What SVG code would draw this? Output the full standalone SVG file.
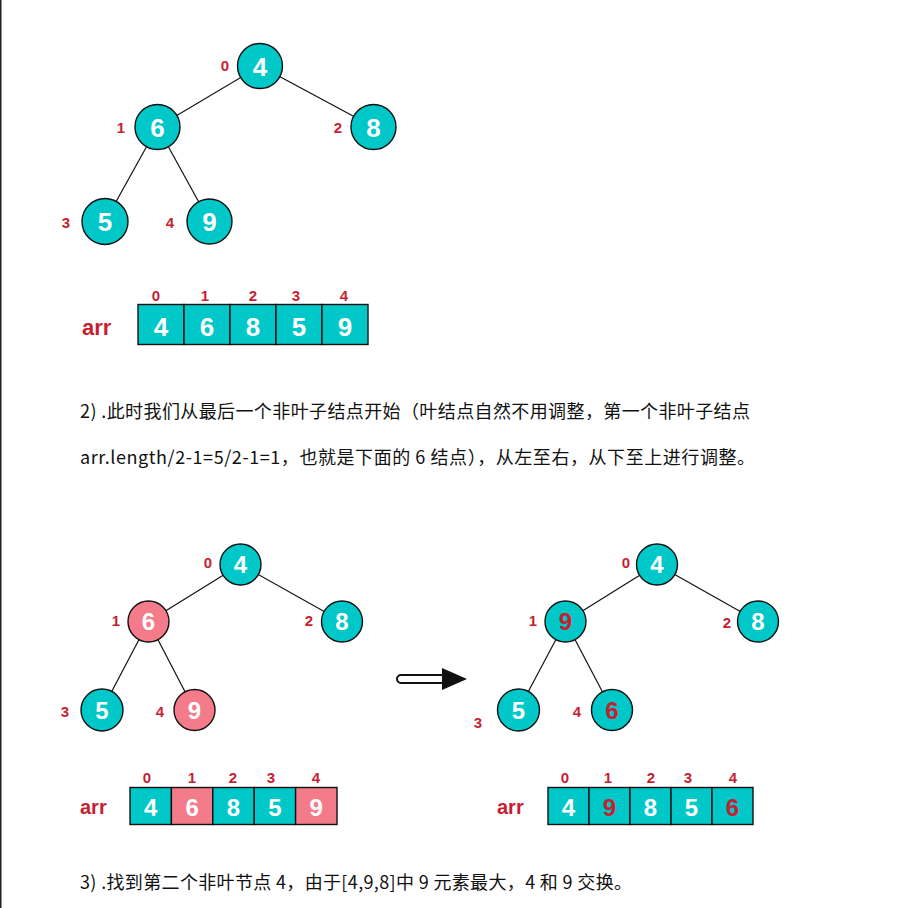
<svg xmlns="http://www.w3.org/2000/svg" width="923" height="908" viewBox="0 0 923 908">
<style>
.t{fill:#00c8c8;stroke:#111;stroke-width:1.4}
.p{fill:#f47b8a;stroke:#111;stroke-width:1.4}
.cell{stroke:#111;stroke-width:1.4}
.v{font-family:"Liberation Sans",Arial,sans-serif;font-weight:bold;fill:#fff;text-anchor:middle}
.vr{fill:#c81e32}
.lbl{font-family:"Liberation Sans",Arial,sans-serif;font-weight:bold;font-size:15px;fill:#c81e32;text-anchor:middle}
.arr{font-family:"Liberation Sans",Arial,sans-serif;font-weight:bold;fill:#c81e32}
.txt{font-family:"Noto Sans CJK SC","Liberation Sans",sans-serif;font-size:18px;fill:#111}
.edge{stroke:#111;stroke-width:1.2}
</style>
<rect width="923" height="908" fill="#fff"/>
<line x1="0.75" y1="0" x2="0.75" y2="908" stroke="#222" stroke-width="1.5"/>

<g id="connectors">
  <line class="edge" x1="260" y1="66" x2="157.5" y2="127"/>
  <line class="edge" x1="260" y1="66" x2="373.5" y2="127"/>
  <line class="edge" x1="157.5" y1="127" x2="105" y2="221.5"/>
  <line class="edge" x1="157.5" y1="127" x2="209.5" y2="221.5"/>
  <line class="edge" x1="240.5" y1="564.5" x2="148.5" y2="621.5"/>
  <line class="edge" x1="240.5" y1="564.5" x2="342" y2="621.5"/>
  <line class="edge" x1="148.5" y1="621.5" x2="102" y2="710"/>
  <line class="edge" x1="148.5" y1="621.5" x2="194.5" y2="710"/>
  <line class="edge" x1="657" y1="564.5" x2="565.5" y2="621.5"/>
  <line class="edge" x1="657" y1="564.5" x2="758" y2="621.5"/>
  <line class="edge" x1="565.5" y1="621.5" x2="518.5" y2="710"/>
  <line class="edge" x1="565.5" y1="621.5" x2="612" y2="710"/>
</g>

<!-- Top tree -->
<g id="t1n0"><circle class="t" cx="260" cy="66" r="22.5"/><text class="v" x="260" y="75.5" font-size="26">4</text><text class="lbl" x="225" y="71">0</text></g>
<g id="t1n1"><circle class="t" cx="157.5" cy="127" r="22.5"/><text class="v" x="157.5" y="136.5" font-size="26">6</text><text class="lbl" x="121" y="133">1</text></g>
<g id="t1n2"><circle class="t" cx="373.5" cy="127" r="22.5"/><text class="v" x="373.5" y="136.5" font-size="26">8</text><text class="lbl" x="338" y="133">2</text></g>
<g id="t1n3"><circle class="t" cx="105" cy="221.5" r="23"/><text class="v" x="105" y="231" font-size="26">5</text><text class="lbl" x="66" y="228">3</text></g>
<g id="t1n4"><circle class="t" cx="209.5" cy="221.5" r="22.5"/><text class="v" x="209.5" y="231" font-size="26">9</text><text class="lbl" x="170" y="228">4</text></g>

<!-- Top array -->
<g id="arr1">
  <text class="arr" x="82" y="335" font-size="22">arr</text>
  <rect class="cell t" x="138" y="304.5" width="46" height="40"/>
  <rect class="cell t" x="184" y="304.5" width="46" height="40"/>
  <rect class="cell t" x="230" y="304.5" width="46" height="40"/>
  <rect class="cell t" x="276" y="304.5" width="46" height="40"/>
  <rect class="cell t" x="322" y="304.5" width="46" height="40"/>
  <text class="v" x="161" y="336" font-size="26">4</text>
  <text class="v" x="207" y="336" font-size="26">6</text>
  <text class="v" x="253" y="336" font-size="26">8</text>
  <text class="v" x="299" y="336" font-size="26">5</text>
  <text class="v" x="345" y="336" font-size="26">9</text>
  <text class="lbl" x="156" y="301">0</text>
  <text class="lbl" x="205" y="301">1</text>
  <text class="lbl" x="253" y="301">2</text>
  <text class="lbl" x="296" y="301">3</text>
  <text class="lbl" x="344" y="301">4</text>
</g>

<g id="text">
  <text class="txt" x="80" y="418" textLength="670" lengthAdjust="spacing">2) .此时我们从最后一个非叶子结点开始（叶结点自然不用调整，第一个非叶子结点</text>
  <text class="txt" x="80" y="464" textLength="675" lengthAdjust="spacing">arr.length/2-1=5/2-1=1，也就是下面的 6 结点），从左至右，从下至上进行调整。</text>
  <text class="txt" x="80" y="889" textLength="552" lengthAdjust="spacing">3) .找到第二个非叶节点 4，由于[4,9,8]中 9 元素最大，4 和 9 交换。</text>
</g>

<!-- Bottom-left tree -->
<g id="t2n0"><circle class="t" cx="240.5" cy="564.5" r="20.5"/><text class="v" x="240.5" y="573" font-size="24">4</text><text class="lbl" x="208" y="568">0</text></g>
<g id="t2n1"><circle class="p" cx="148.5" cy="621.5" r="20.5"/><text class="v" x="148.5" y="630" font-size="24">6</text><text class="lbl" x="116" y="626">1</text></g>
<g id="t2n2"><circle class="t" cx="342" cy="621.5" r="20.5"/><text class="v" x="342" y="630" font-size="24">8</text><text class="lbl" x="309" y="626">2</text></g>
<g id="t2n3"><circle class="t" cx="102" cy="710" r="21"/><text class="v" x="102" y="718.5" font-size="24">5</text><text class="lbl" x="65" y="717">3</text></g>
<g id="t2n4"><circle class="p" cx="194.5" cy="710" r="20.5"/><text class="v" x="194.5" y="718.5" font-size="24">9</text><text class="lbl" x="160" y="717">4</text></g>

<!-- Arrow -->
<g id="arrow">
  <rect x="397" y="675" width="48" height="8" rx="4" fill="#fff" stroke="#111" stroke-width="2"/>
  <polygon points="442,668 467,679 442,690" fill="#111"/>
</g>

<!-- Bottom-right tree -->
<g id="t3n0"><circle class="t" cx="657" cy="564.5" r="20.5"/><text class="v" x="657" y="573" font-size="24">4</text><text class="lbl" x="626" y="568">0</text></g>
<g id="t3n1"><circle class="t" cx="565.5" cy="621.5" r="20.5"/><text class="v vr" x="565.5" y="630" font-size="24">9</text><text class="lbl" x="533" y="626">1</text></g>
<g id="t3n2"><circle class="t" cx="758" cy="621.5" r="20.5"/><text class="v" x="758" y="630" font-size="24">8</text><text class="lbl" x="727" y="628">2</text></g>
<g id="t3n3"><circle class="t" cx="518.5" cy="710" r="21"/><text class="v" x="518.5" y="718.5" font-size="24">5</text><text class="lbl" x="478" y="728">3</text></g>
<g id="t3n4"><circle class="t" cx="612" cy="710" r="20.5"/><text class="v vr" x="612" y="718.5" font-size="24">6</text><text class="lbl" x="577" y="717">4</text></g>

<!-- Bottom-left array -->
<g id="arr2">
  <text class="arr" x="80" y="814" font-size="20">arr</text>
  <rect class="cell t" x="130" y="787.5" width="41.4" height="37"/>
  <rect class="cell p" x="171.4" y="787.5" width="41.4" height="37"/>
  <rect class="cell t" x="212.8" y="787.5" width="41.4" height="37"/>
  <rect class="cell t" x="254.2" y="787.5" width="41.4" height="37"/>
  <rect class="cell p" x="295.6" y="787.5" width="41.4" height="37"/>
  <text class="v" x="150.7" y="815.5" font-size="24">4</text>
  <text class="v" x="192.1" y="815.5" font-size="24">6</text>
  <text class="v" x="233.5" y="815.5" font-size="24">8</text>
  <text class="v" x="274.9" y="815.5" font-size="24">5</text>
  <text class="v" x="316.3" y="815.5" font-size="24">9</text>
  <text class="lbl" x="147" y="783">0</text>
  <text class="lbl" x="192" y="783">1</text>
  <text class="lbl" x="233" y="783">2</text>
  <text class="lbl" x="271" y="783">3</text>
  <text class="lbl" x="316" y="783">4</text>
</g>

<!-- Bottom-right array -->
<g id="arr3">
  <text class="arr" x="497" y="814" font-size="20">arr</text>
  <rect class="cell t" x="548" y="787.5" width="41" height="37"/>
  <rect class="cell t" x="589" y="787.5" width="41" height="37"/>
  <rect class="cell t" x="630" y="787.5" width="41" height="37"/>
  <rect class="cell t" x="671" y="787.5" width="41" height="37"/>
  <rect class="cell t" x="712" y="787.5" width="41" height="37"/>
  <text class="v" x="568.5" y="815.5" font-size="24">4</text>
  <text class="v vr" x="609.5" y="815.5" font-size="24">9</text>
  <text class="v" x="650.5" y="815.5" font-size="24">8</text>
  <text class="v" x="691.5" y="815.5" font-size="24">5</text>
  <text class="v vr" x="732.5" y="815.5" font-size="24">6</text>
  <text class="lbl" x="565" y="783">0</text>
  <text class="lbl" x="608" y="783">1</text>
  <text class="lbl" x="651" y="783">2</text>
  <text class="lbl" x="688" y="783">3</text>
  <text class="lbl" x="733" y="783">4</text>
</g>
</svg>
